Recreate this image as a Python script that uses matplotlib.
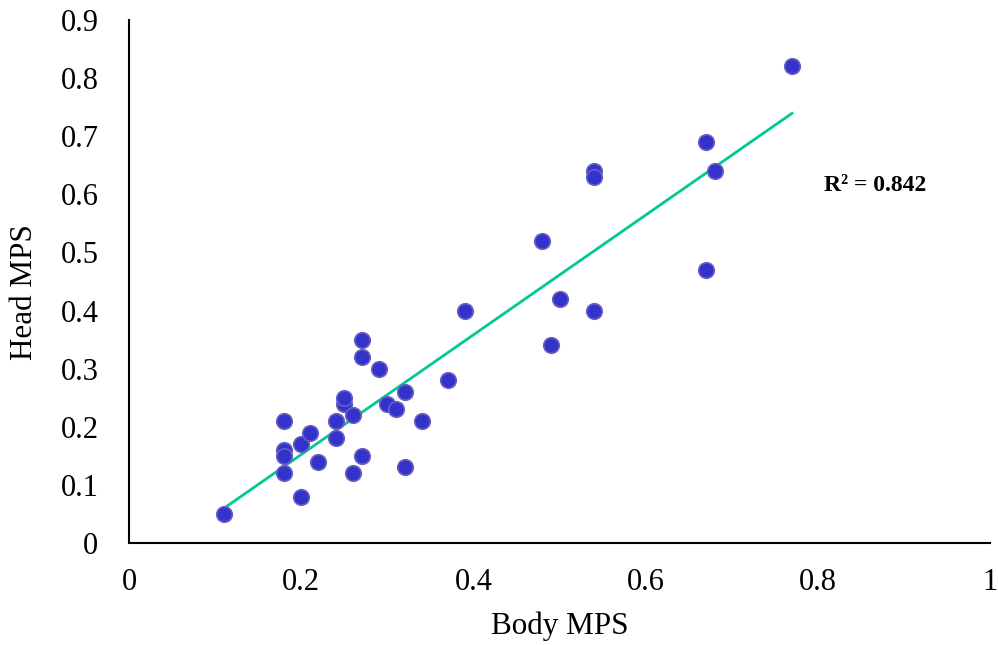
import numpy as np
import matplotlib
matplotlib.use("Agg")
import matplotlib.pyplot as plt

body_mps = [0.11, 0.18, 0.18, 0.18, 0.18, 0.20, 0.20, 0.21, 0.22, 0.24, 0.24, 0.25,
            0.25, 0.26, 0.26, 0.27, 0.27, 0.27, 0.29, 0.30, 0.31, 0.32, 0.32, 0.34,
            0.37, 0.39, 0.48, 0.49, 0.50, 0.54, 0.54, 0.54, 0.67, 0.67, 0.68, 0.77]
head_mps = [0.05, 0.21, 0.16, 0.15, 0.12, 0.08, 0.17, 0.19, 0.14, 0.21, 0.18, 0.24,
            0.25, 0.22, 0.12, 0.35, 0.32, 0.15, 0.30, 0.24, 0.23, 0.26, 0.13, 0.21,
            0.28, 0.40, 0.52, 0.34, 0.42, 0.64, 0.63, 0.40, 0.69, 0.47, 0.64, 0.82]
r2_label = "R² = 0.842"
x_ticks = [0, 0.2, 0.4, 0.6, 0.8, 1]
x_tick_labels = ["0", "0.2", "0.4", "0.6", "0.8", "1"]
y_ticks = [0, 0.1, 0.2, 0.3, 0.4, 0.5, 0.6, 0.7, 0.8, 0.9]
y_tick_labels = ["0", "0.1", "0.2", "0.3", "0.4", "0.5", "0.6", "0.7", "0.8", "0.9"]

plt.rcParams['font.family'] = ['Liberation Serif', 'DejaVu Serif']

fig = plt.figure(figsize=(9.98, 6.45), dpi=100)
ax = fig.add_axes([0.1293, 0.1581, 0.8627, 0.8109])

x = np.array(body_mps)
y = np.array(head_mps)
slope, intercept = np.polyfit(x, y, 1)
xl = np.array([x.min(), x.max()])
ax.plot(xl, slope * xl + intercept, color='#00C896', lw=2, zorder=2)

ax.scatter(x, y, s=125, color='#3333CC', edgecolors='#6A5FC0', linewidths=1.2, zorder=3)

ax.set_xlim(0, 1)
ax.set_ylim(0, 0.9)
ax.set_xticks(x_ticks)
ax.set_xticklabels(x_tick_labels)
ax.set_yticks(y_ticks)
ax.set_yticklabels(y_tick_labels)
ax.tick_params(axis='both', length=0, labelsize=22, colors='black')
ax.tick_params(axis='x', pad=18)
ax.tick_params(axis='y', pad=22)

for s in ['top', 'right']:
    ax.spines[s].set_visible(False)
for s in ['left', 'bottom']:
    ax.spines[s].set_linewidth(1.5)
    ax.spines[s].set_color('black')

ax.set_xlabel('Body MPS', fontsize=22.4)
ax.set_ylabel('Head MPS', fontsize=22.4)
ax.xaxis.set_label_coords(0.5006, -0.13)
ax.yaxis.set_label_coords(-0.105, 0.48)

ax.text(0.866, 0.616, r2_label, fontsize=17, fontweight='bold', ha='center', va='center',
        transform=ax.transData)

fig.savefig('out.png', dpi=100)
